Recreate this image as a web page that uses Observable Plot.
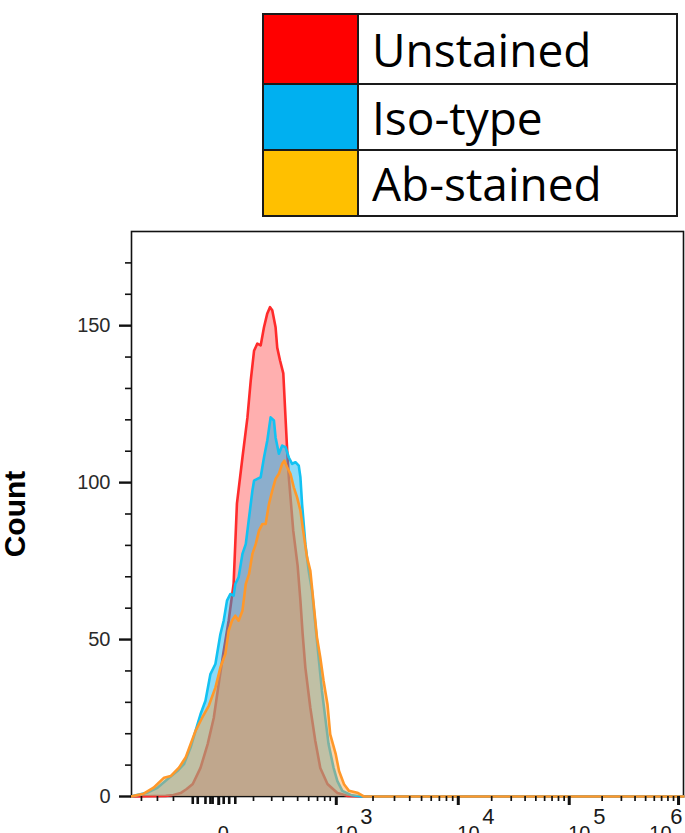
<!DOCTYPE html>
<html><head><meta charset="utf-8">
<script src="https://cdn.jsdelivr.net/npm/d3@7"></script>
<script src="https://cdn.jsdelivr.net/npm/@observablehq/plot@0.6"></script>
<style>
body{margin:0;background:#fff;}
#legendWrap{position:relative;height:215px;width:685px;}
#legend{position:absolute;left:262px;top:13px;border-collapse:collapse;table-layout:fixed;width:416px;}
#legend td{border:2px solid #1a1a1a;padding:0;}
#legend td.sw{width:93px;}
#legend td.lab{font-family:"Open Sans",sans-serif;font-size:46px;padding-left:13px;line-height:1;color:#000;}
</style></head><body>
<div id="legendWrap"><table id="legend"></table></div>
<div id="chart"></div>
<script>
// ---- series (x in display channels of the biexponential axis, y = count) ----
const seriesNames = ["Unstained", "Iso-type", "Ab-stained"];
const legendColors = ["#ff0000", "#00b0f0", "#ffc000"];
const lineColors = ["#ff2b2b", "#12c2f2", "#ff982a"];
const fillColors = ["#ff2020", "#00aeef", "#ffa040"];

const unstainedX = [0,62,76,89,100,111,125,138,149,158,167,176,185,191,201,210,216,222,228,234,240,246,251,255,261,264,269,275,279,282,285,288,293,301,306,310,315,324,333,342,355,373,391,415,1000];
const unstainedY = [0,0.2,0.5,1.1,2.4,4.0,9.1,16.7,25,35.9,46.4,56,67.8,93.3,108,120.7,132.5,142,144.3,143.7,149.5,153.9,155.9,154.9,149.5,143,139,134.8,120.7,110.3,101.7,95.4,84.7,73.5,62.4,51.9,41,28.2,17.7,9.1,4,1.1,0.2,0,0];

const isoX = [0,4,28,47,65,83,95,107,116,125,134,143,152,161,167,173,179,185,188,194,201,207,213,219,222,228,234,240,246,252,258,261,267,273,279,285,291,297,303,306,309,312,315,321,327,333,339,345,351,357,366,373,382,397,415,1000];
const isoY = [0,0.2,1.2,2.8,5.5,8.1,10.3,15.6,20.9,26.2,30.5,39,42.2,51.7,56,62.4,64.5,64,67.7,69.8,77.3,80.4,88.9,97.4,100.6,101.2,101.7,108,113.4,120.8,119.8,114.4,109.2,111.8,111.3,108,106,106.5,105.4,101.7,93.2,86.8,80.4,71.9,65.5,54.9,44.3,33.7,25.1,16.7,9.2,4.9,1.8,0.5,0,0];

const abX = [0,4,22,40,59,71,86,98,107,116,128,140,152,161,170,176,182,188,194,201,207,213,219,225,231,237,243,249,255,261,267,273,277,282,288,294,300,306,311,318,324,330,336,342,348,355,360,370,376,385,394,409,421,1000];
const abY = [0,0.2,0.9,2.8,6,6.5,9.2,12.4,16.7,20.9,25.1,28.9,34.7,41.1,45.4,52.8,56,57.6,56,59.2,67.7,70.9,77.3,80.4,84.7,86.8,86.8,93.2,97.4,101.2,102.8,106,107,104.9,102.8,98.5,95.3,91.1,84.7,76.2,71.9,61.3,50.7,44.3,36.8,29.4,19.8,13.5,8.1,3.9,1.8,1.2,0,0];

// ---- axis ticks ----
const yMajorTicks = [0, 50, 100, 150];
const yMinorTicks = [10,20,30,40,60,70,80,90,110,120,130,140,160,170];
const xMajorTicks = [158, 371, 592, 793, 991];          // 0, 10^3, 10^4, 10^5, 10^6
const xMajorBase = ["0", "10", "10", "10", "10"];
const xMajorExp = ["", "3", "4", "5", "6"];
const xNearZeroTicks = [18, 47, 76, 221, 254, 275, 301, 321, 337, 350, 360];
const xLinearTicks = [111, 120, 134, 143, 147, 167, 177, 188];

// log-spaced minor ticks inside each decade
const xDecadeMinor = [];
for (let k = 1; k < xMajorTicks.length - 1; k++) {
  const a = xMajorTicks[k], b = xMajorTicks[k + 1];
  for (let m = 2; m <= 9; m++) xDecadeMinor.push(a + Math.log10(m) * (b - a));
}

// ---- legend ----
const rowHeights = [70, 66, 66];
const legend = d3.select("#legend");
seriesNames.forEach((name, i) => {
  const tr = legend.append("tr").style("height", rowHeights[i] + "px");
  tr.append("td").attr("class", "sw").style("background", legendColors[i]);
  tr.append("td").attr("class", "lab").text(name);
});

const xsAll = [unstainedX, isoX, abX];
const ysAll = [unstainedY, isoY, abY];
const series = xsAll.map((xs, s) => xs.map((x, i) => ({x, y: ysAll[s][i]})));
const fillOpacity = [0.36, 0.45, 0.45];

const histMarks = [];
series.forEach((data, s) => {
  histMarks.push(Plot.areaY(data, {x: "x", y: "y", fill: fillColors[s], fillOpacity: fillOpacity[s]}));
  histMarks.push(Plot.lineY(data, {x: "x", y: "y", stroke: lineColors[s], strokeWidth: 2.6, strokeLinejoin: "round"}));
});

const idx = d3.range(xMajorTicks.length);
const font = "Liberation Sans, Arial, sans-serif";

const chart = Plot.plot({
  width: 685,
  height: 635,
  marginLeft: 131,
  marginRight: 2,
  marginTop: 16,
  marginBottom: 54,
  style: {background: "#fff", fontFamily: font},
  x: {domain: [0, 1000]},
  y: {domain: [0, 180]},
  marks: [
    Plot.frame({stroke: "#111", strokeWidth: 1.6}),
    ...histMarks,
    Plot.axisY(yMajorTicks, {tickSize: 12, tickPadding: 9, strokeWidth: 2.4, stroke: "#111", fill: "#2a2a2a", fontSize: 20, label: null}),
    Plot.axisY(yMinorTicks, {tickSize: 6, strokeWidth: 1.6, stroke: "#111", tickFormat: () => "", label: null}),
    Plot.axisX(xMajorTicks, {anchor: "bottom", tickSize: 9, strokeWidth: 3, stroke: "#111", tickFormat: () => "", label: null}),
    Plot.axisX(xDecadeMinor.concat(xNearZeroTicks), {anchor: "bottom", tickSize: 5, strokeWidth: 1.7, stroke: "#111", tickFormat: () => "", label: null}),
    Plot.axisX(xLinearTicks, {anchor: "bottom", tickSize: 8, strokeWidth: 2.6, stroke: "#111", tickFormat: () => "", label: null}),
    // tick labels (left-aligned at the tick, last one right-aligned)
    Plot.text(idx.filter(i => i < 4), {x: i => xMajorTicks[i], text: i => xMajorBase[i], frameAnchor: "bottom", textAnchor: "start", lineAnchor: "top", dy: 29, dx: -1, fontSize: 20, fill: "#1a1a1a"}),
    Plot.text(idx.filter(i => i > 0 && i < 4), {x: i => xMajorTicks[i], text: i => xMajorExp[i], frameAnchor: "bottom", textAnchor: "start", lineAnchor: "top", dy: 12, dx: 24, fontSize: 22, fill: "#1a1a1a"}),
    Plot.text(idx.filter(i => i === 4), {x: i => xMajorTicks[i], text: i => xMajorBase[i], frameAnchor: "bottom", textAnchor: "end", lineAnchor: "top", dy: 29, dx: -7, fontSize: 20, fill: "#1a1a1a"}),
    Plot.text(idx.filter(i => i === 4), {x: i => xMajorTicks[i], text: i => xMajorExp[i], frameAnchor: "bottom", textAnchor: "end", lineAnchor: "top", dy: 12, dx: 4, fontSize: 22, fill: "#1a1a1a"}),
    Plot.text(["Count"], {frameAnchor: "left", dx: -116, rotate: -90, textAnchor: "middle", lineAnchor: "middle", fontSize: 30, fontWeight: "bold", fill: "#000"})
  ]
});
document.getElementById("chart").appendChild(chart);
</script>
</body></html>
